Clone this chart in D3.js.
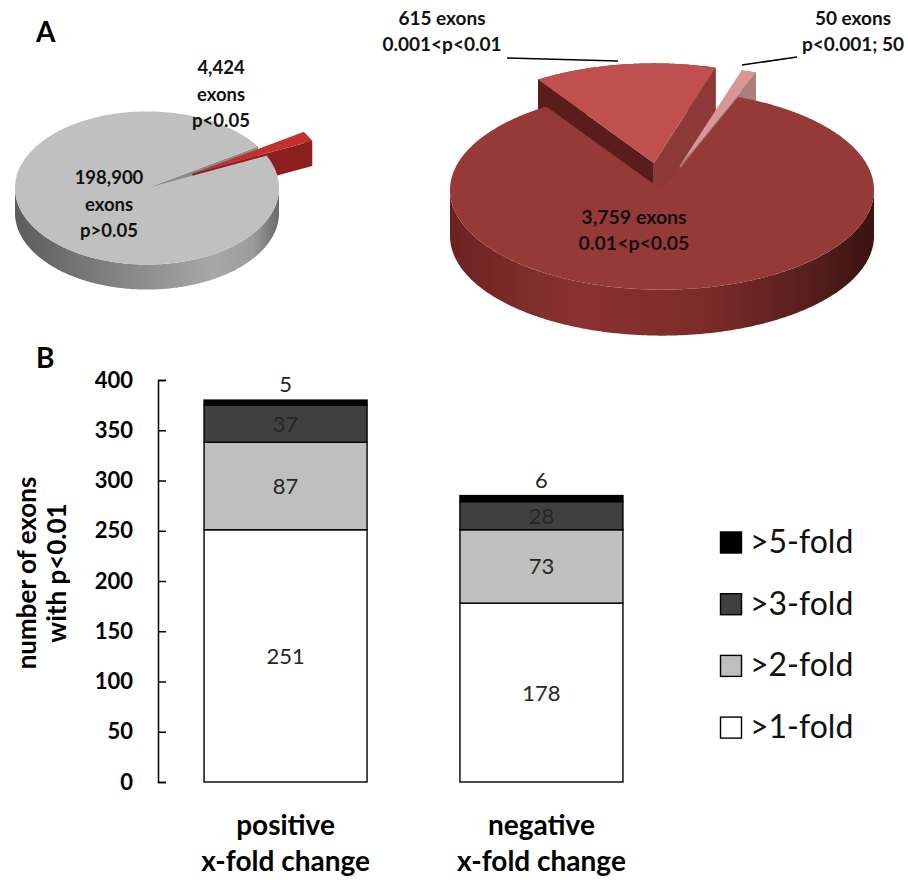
<!DOCTYPE html>
<html><head><meta charset="utf-8">
<script src="https://cdn.jsdelivr.net/npm/d3@7"></script>
<style>body{margin:0;background:#fff} svg{display:block} text{font-family:Lato, "Open Sans", sans-serif}</style>
</head><body><svg id="c" width="908" height="886"></svg>
<script>
// ---------- data ----------
const leftPieValues = [198900, 4424];
const leftPieLabels = [["198,900", "exons", "p>0.05"], ["4,424", "exons", "p<0.05"]];
const rightPieValues = [3759, 615, 50];
const rightPieLabels = [["3,759 exons", "0.01<p<0.05"], ["615 exons", "0.001<p<0.01"], ["50 exons", "p<0.001; 50"]];
const categories = ["positive", "negative"];
const categoryLines = [["positive", "x-fold change"], ["negative", "x-fold change"]];
const foldLevels = [">1-fold", ">2-fold", ">3-fold", ">5-fold"];
const positiveCounts = [251, 87, 37, 5];
const negativeCounts = [178, 73, 28, 6];
const yTickValues = [0, 50, 100, 150, 200, 250, 300, 350, 400];
const yTitle = ["number of exons", "with p<0.01"];

const svg = d3.select("#c");
const defs = svg.append("defs");
function grad(id, x1, x2, stops) {
  const lg = defs.append("linearGradient").attr("id", id).attr("gradientUnits", "userSpaceOnUse")
    .attr("x1", x1).attr("x2", x2).attr("y1", 0).attr("y2", 0);
  stops.forEach(([o, c]) => lg.append("stop").attr("offset", o).attr("stop-color", c));
}
grad("grayWall", 15, 279, [[0, "#5c5c5c"], [0.45, "#8a8a8a"], [0.75, "#a8a8a8"], [0.9, "#9c9c9c"], [1, "#6a6a6a"]]);
grad("redWall", 450, 874, [[0, "#6a2321"], [0.3, "#8a3230"], [0.6, "#7c2b29"], [0.85, "#561e1c"], [1, "#3a1210"]]);

// ---------- 3D pie ----------
function pie3d(g, values, cfg) {
  const arcs = d3.pie().sort(null).startAngle(cfg.start).endAngle(cfg.start + 2 * Math.PI)(values);
  const geo = arcs.map((a, i) => {
    const e = cfg.explode[i], mid = (a.startAngle + a.endAngle) / 2;
    const ox = e * Math.sin(mid), oz = -e * Math.cos(mid);
    const P = (th, r, d = 0) => [cfg.cx + ox + r * Math.sin(th), cfg.cy + (oz - r * Math.cos(th)) * cfg.tilt + d];
    return { a, i, e, P };
  });
  const rim = (a0, a1) => { const n = Math.max(2, Math.ceil((a1 - a0) / 0.01)); return d3.range(n + 1).map(k => a0 + (a1 - a0) * k / n); };
  const line = d3.line();
  geo.forEach(({ a, i, e, P }) => {
    const ranges = [];
    if (e > 0) ranges.push([a.startAngle, a.endAngle]);
    else for (let k = -1; k <= 2; k++) {
      const lo = Math.max(a.startAngle, Math.PI / 2 + 2 * Math.PI * k), hi = Math.min(a.endAngle, 1.5 * Math.PI + 2 * Math.PI * k);
      if (hi > lo) ranges.push([lo, hi]);
    }
    ranges.forEach(([lo, hi]) => {
      const ths = rim(lo, hi);
      const pts = ths.map(t => P(t, cfg.r)).concat(ths.slice().reverse().map(t => P(t, cfg.r, cfg.depth)));
      g.append("path").attr("d", line(pts) + "Z").attr("fill", cfg.wallFill[i]);
    });
  });
  geo.forEach(({ a, i, P }) => {
    [[a.startAngle, Math.sin(a.startAngle) < 0, cfg.radialFill[i][0]], [a.endAngle, Math.sin(a.endAngle) > 0, cfg.radialFill[i][1]]]
      .forEach(([t, vis, fill]) => {
        if (!vis) return;
        const pts = [P(0, 0), P(t, cfg.r), P(t, cfg.r, cfg.depth), P(0, 0, cfg.depth)];
        g.append("path").attr("d", line(pts) + "Z").attr("fill", fill);
      });
  });
  geo.forEach(({ a, i, P }) => {
    const pts = [P(0, 0)].concat(rim(a.startAngle, a.endAngle).map(t => P(t, cfg.r)));
    g.append("path").attr("d", line(pts) + "Z").attr("fill", cfg.topFill[i]);
  });
}

const gl = svg.append("g");
pie3d(gl, leftPieValues, {
  cx: 147, cy: 188, r: 132, tilt: 0.58, depth: 25, start: 65 * Math.PI / 180,
  explode: [0, 52],
  topFill: ["#c0c0c0", "#c4302e"],
  wallFill: ["url(#grayWall)", "#7e1a19"],
  radialFill: [["#8c8c8c", "#8c8c8c"], ["#761716", "#8a1f1d"]]
});
const gr = svg.append("g");
pie3d(gr, rightPieValues, {
  cx: 662, cy: 190, r: 212, tilt: 0.47, depth: 46, start: 21 * Math.PI / 180,
  explode: [0, 58, 55],
  topFill: ["#963a38", "#c0504d", "#d99694"],
  wallFill: ["url(#redWall)", "#7a2b29", "#b58583"],
  radialFill: [["#5c1e1d", "#5c1e1d"], ["#5a1d1c", "#8c3937"], ["#c79a98", "#ab7f7e"]]
});

// pie labels
function lines(arr, x, y0, dy, size, anchor) {
  arr.forEach((t, k) => svg.append("text").attr("x", x).attr("y", y0 + k * dy).attr("text-anchor", anchor || "middle")
    .attr("font-size", size).attr("font-weight", "bold").attr("fill", "#111").text(t));
}
lines(leftPieLabels[0], 109, 184, 26.5, 18.5);
lines(leftPieLabels[1], 221, 74, 26.5, 18.5);
lines(rightPieLabels[0], 634, 224, 25.5, 19.5);
lines(rightPieLabels[1], 442, 25, 26, 19);
lines(rightPieLabels[2], 853, 25, 26, 19);
svg.append("path").attr("d", "M507,58L618,61").attr("stroke", "#000").attr("stroke-width", 1.6).attr("fill", "none");
svg.append("path").attr("d", "M742,65L797,57").attr("stroke", "#000").attr("stroke-width", 1.6).attr("fill", "none");

svg.append("text").attr("x", 36).attr("y", 42).attr("font-size", 28).attr("font-weight", "bold").text("A");
svg.append("text").attr("x", 36).attr("y", 368).attr("font-size", 28).attr("font-weight", "bold").text("B");

// ---------- stacked bars ----------
const y = d3.scaleLinear().domain([0, 400]).range([782, 380]);
const x = d3.scaleBand().domain(categories).range([158, 669]).paddingInner(0.363).paddingOuter(0.18);
const segColors = ["#ffffff", "#bfbfbf", "#404040", "#000000"];
const color = d3.scaleOrdinal().domain(foldLevels).range(segColors);
const table = categories.map((c, ci) => {
  const row = { cat: c };
  const counts = ci === 0 ? positiveCounts : negativeCounts;
  foldLevels.forEach((f, k) => row[f] = counts[k]);
  return row;
});
const series = d3.stack().keys(foldLevels)(table);
const gb = svg.append("g");
series.forEach((s, si) => {
  s.forEach(d => {
    gb.append("rect").attr("x", x(d.data.cat)).attr("width", x.bandwidth())
      .attr("y", y(d[1])).attr("height", y(d[0]) - y(d[1]))
      .attr("fill", color(s.key)).attr("stroke", "#000").attr("stroke-width", 1.4);
    const cx = x(d.data.cat) + x.bandwidth() / 2;
    const ty = si === foldLevels.length - 1 ? y(d[1]) - 8 : (y(d[0]) + y(d[1])) / 2 + 8;
    gb.append("text").attr("x", cx).attr("y", ty).attr("text-anchor", "middle").attr("font-size", 22)
      .attr("fill", "#262626").text(d.data[s.key]);
  });
});

const ax = svg.append("g").attr("transform", "translate(158,0)")
  .call(d3.axisLeft(y).tickValues(yTickValues).tickSizeInner(-8).tickSizeOuter(-8).tickPadding(25));
ax.select(".domain").attr("stroke", "#000").attr("stroke-width", 1.5);
ax.selectAll(".tick line").attr("stroke", "#000").attr("stroke-width", 1.5);
ax.selectAll(".tick text").attr("font-size", 22).attr("font-weight", "bold").attr("fill", "#000")
  .attr("font-family", "Lato, sans-serif");

yTitle.forEach((t, k) => svg.append("text").attr("transform", `translate(${k === 0 ? 36 : 66},573) rotate(-90)`)
  .attr("text-anchor", "middle").attr("font-size", 26).attr("font-weight", "bold").text(t));

categoryLines.forEach((ls, ci) => ls.forEach((t, k) => svg.append("text")
  .attr("x", x(categories[ci]) + x.bandwidth() / 2).attr("y", 835 + k * 36).attr("text-anchor", "middle")
  .attr("font-size", 28).attr("font-weight", "bold").text(t)));

// legend
const legendOrder = foldLevels.slice().reverse();
const lg = svg.append("g");
legendOrder.forEach((f, k) => {
  const yy = 532 + k * 61.7;
  lg.append("rect").attr("x", 720.5).attr("y", yy).attr("width", 21).attr("height", 21)
    .attr("fill", color(f)).attr("stroke", "#000").attr("stroke-width", 1.4);
  lg.append("text").attr("x", 750).attr("y", yy + 21).attr("font-size", 32).attr("fill", "#111").text(f);
});
</script></body></html>
